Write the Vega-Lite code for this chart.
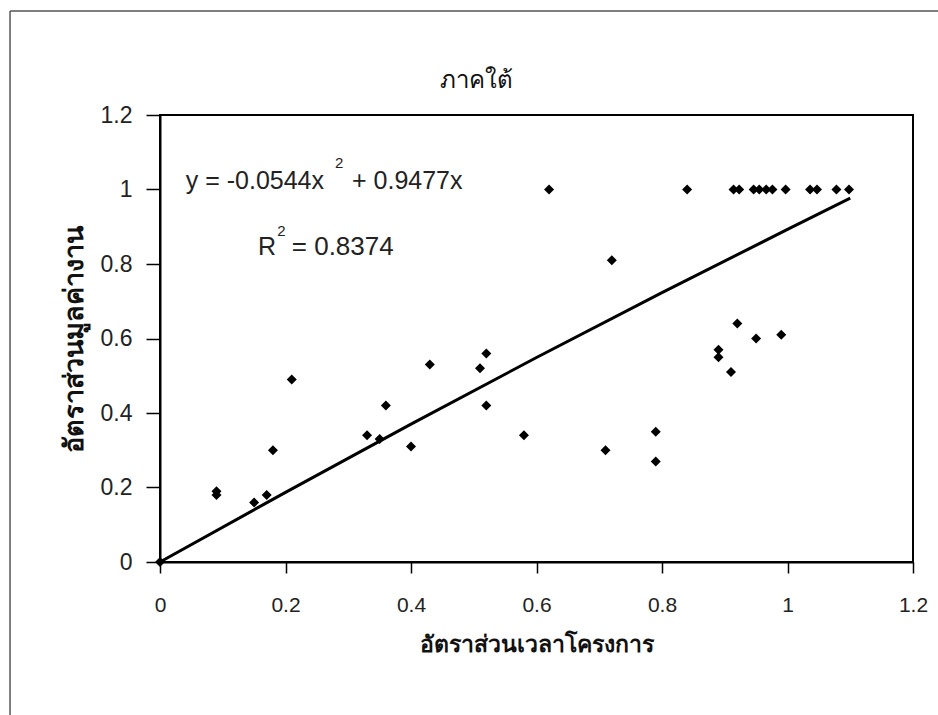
{
  "$schema": "https://vega.github.io/schema/vega-lite/v6.json",
  "width": 753,
  "height": 447,
  "autosize": {"type": "none"},
  "padding": {"left": 160, "top": 115, "right": 25, "bottom": 153},
  "background": "white",
  "config": {
    "view": {"stroke": "black", "strokeWidth": 2},
    "font": "Liberation Sans",
    "axis": {"grid": false, "domainColor": "black", "domainWidth": 2, "tickColor": "black", "tickWidth": 1.5, "labelColor": "#222", "labelFont": "Liberation Sans", "titleColor": "#111", "titleFontWeight": "bold"}
  },
  "datasets": {
    "pts": [
      {"x": 0, "y": 0},
      {"x": 0.09, "y": 0.19}, {"x": 0.09, "y": 0.18},
      {"x": 0.15, "y": 0.16}, {"x": 0.17, "y": 0.18},
      {"x": 0.18, "y": 0.30}, {"x": 0.21, "y": 0.49},
      {"x": 0.33, "y": 0.34}, {"x": 0.35, "y": 0.33},
      {"x": 0.36, "y": 0.42}, {"x": 0.40, "y": 0.31},
      {"x": 0.43, "y": 0.53}, {"x": 0.51, "y": 0.52},
      {"x": 0.52, "y": 0.56}, {"x": 0.52, "y": 0.42},
      {"x": 0.58, "y": 0.34}, {"x": 0.62, "y": 1.0},
      {"x": 0.71, "y": 0.30}, {"x": 0.72, "y": 0.81},
      {"x": 0.79, "y": 0.35}, {"x": 0.79, "y": 0.27},
      {"x": 0.84, "y": 1.0},
      {"x": 0.89, "y": 0.57}, {"x": 0.89, "y": 0.55},
      {"x": 0.91, "y": 0.51}, {"x": 0.92, "y": 0.64},
      {"x": 0.95, "y": 0.60}, {"x": 0.99, "y": 0.61},
      {"x": 0.914, "y": 1.0}, {"x": 0.923, "y": 1.0},
      {"x": 0.946, "y": 1.0}, {"x": 0.955, "y": 1.0},
      {"x": 0.966, "y": 1.0}, {"x": 0.976, "y": 1.0},
      {"x": 0.997, "y": 1.0}, {"x": 1.036, "y": 1.0},
      {"x": 1.047, "y": 1.0}, {"x": 1.078, "y": 1.0},
      {"x": 1.098, "y": 1.0}
    ],
    "fit": [
      {"x": 0, "y": 0},
      {"x": 0.2, "y": 0.187},
      {"x": 0.4, "y": 0.370},
      {"x": 0.6, "y": 0.549},
      {"x": 0.8, "y": 0.723},
      {"x": 1.0, "y": 0.893},
      {"x": 1.1, "y": 0.977}
    ],
    "labels": [
      {"x": 0.041, "y": 1.023, "t": "y = -0.0544x", "s": 25},
      {"x": 0.279, "y": 1.071, "t": "2", "s": 15},
      {"x": 0.306, "y": 1.023, "t": "+ 0.9477x", "s": 25},
      {"x": 0.156, "y": 0.846, "t": "R", "s": 25},
      {"x": 0.187, "y": 0.889, "t": "2", "s": 15},
      {"x": 0.21, "y": 0.846, "t": "= 0.8374", "s": 26}
    ],
    "title": [{"x": 0.504, "y": 1.29, "t": "ภาคใต้"}],
    "frameV": [{"x": -0.239, "y": 1.479, "y2": -0.411}],
    "frameH": [{"x": -0.239, "x2": 1.24, "y": 1.479}]
  },
  "layer": [
    {
      "data": {"name": "fit"},
      "mark": {"type": "line", "color": "black", "strokeWidth": 3},
      "encoding": {
        "x": {"field": "x", "type": "quantitative", "scale": {"domain": [0, 1.2], "nice": false},
          "axis": {"title": "อัตราส่วนเวลาโครงการ", "titleFontSize": 23, "values": [0, 0.2, 0.4, 0.6, 0.8, 1, 1.2], "format": "~g", "labelFontSize": 21, "tickSize": 11, "labelPadding": 21, "titlePadding": 18, "labelFlush": false}},
        "y": {"field": "y", "type": "quantitative", "scale": {"domain": [0, 1.2], "nice": false},
          "axis": {"title": "อัตราส่วนมูลค่างาน", "titleFontSize": 27, "values": [0, 0.2, 0.4, 0.6, 0.8, 1, 1.2], "format": "~g", "labelFontSize": 23, "tickSize": 14, "labelPadding": 14, "titlePadding": 12, "labelFlush": false}}
      }
    },
    {
      "data": {"name": "pts"},
      "mark": {"type": "point", "shape": "diamond", "filled": true, "color": "black", "size": 100, "opacity": 1},
      "encoding": {
        "x": {"field": "x", "type": "quantitative"},
        "y": {"field": "y", "type": "quantitative"}
      }
    },
    {
      "data": {"name": "labels"},
      "mark": {"type": "text", "align": "left", "baseline": "middle", "color": "#222", "font": "Liberation Sans"},
      "encoding": {
        "x": {"field": "x", "type": "quantitative"},
        "y": {"field": "y", "type": "quantitative"},
        "text": {"field": "t"},
        "size": {"field": "s", "type": "quantitative", "scale": null, "legend": null}
      }
    },
    {
      "data": {"name": "title"},
      "mark": {"type": "text", "align": "center", "baseline": "middle", "fontSize": 24, "color": "#111", "clip": false},
      "encoding": {
        "x": {"field": "x", "type": "quantitative"},
        "y": {"field": "y", "type": "quantitative"},
        "text": {"field": "t"}
      }
    },
    {
      "data": {"name": "frameV"},
      "mark": {"type": "rule", "color": "#555", "strokeWidth": 1.5, "clip": false},
      "encoding": {
        "x": {"field": "x", "type": "quantitative"},
        "y": {"field": "y", "type": "quantitative"},
        "y2": {"field": "y2"}
      }
    },
    {
      "data": {"name": "frameH"},
      "mark": {"type": "rule", "color": "#555", "strokeWidth": 1.5, "clip": false},
      "encoding": {
        "x": {"field": "x", "type": "quantitative"},
        "x2": {"field": "x2"},
        "y": {"field": "y", "type": "quantitative"}
      }
    }
  ]
}
